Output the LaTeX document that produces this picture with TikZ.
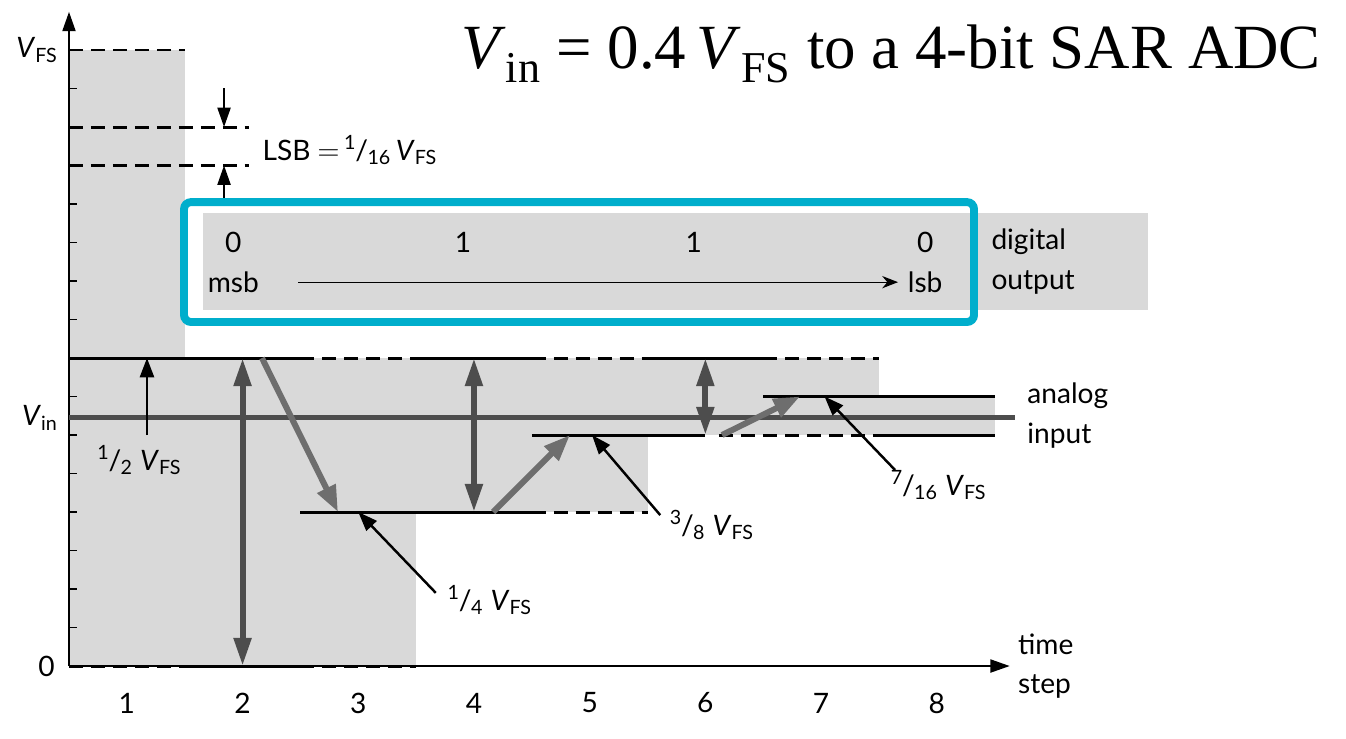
\documentclass[tikz,border=0pt]{standalone}
\usepackage{fontspec}
\setmainfont{Lato}
\newfontfamily\titlefont{Liberation Serif}
\usetikzlibrary{arrows.meta,positioning}

\definecolor{sarcyan}{HTML}{00AECC}
\definecolor{bandgray}{HTML}{D9D9D9}
\definecolor{testgray}{HTML}{4D4D4D}
\definecolor{movegray}{HTML}{6E6E6E}

\newcommand\vfs{\textit{V}\textsubscript{FS}}
\newcommand\frc[2]{\textsuperscript{#1}\kern-.04em/\kern-.02em\textsubscript{#2}}

\begin{document}
\begin{tikzpicture}
[
x = 2.314cm, y = 0.77cm,
>={Triangle[length=11pt,width=7.5pt]},
lbl/.style = {font=\fontsize{16}{22.5}\selectfont, inner sep=0pt},
level/.style = {line width=1.7pt},
dlevel/.style = {level, dash pattern=on 8pt off 4.5pt},
axis/.style = {line width=0.9pt},
test/.style = {line width=3.4pt, draw=testgray,
  {Triangle[length=16pt,width=9.5pt]}-{Triangle[length=16pt,width=9.5pt]}},
move/.style = {line width=3.4pt, draw=movegray, -{Triangle[length=15pt,width=11pt]}},
pointer/.style = {line width=1.4pt, -{Triangle[length=11pt,width=8pt]}},
]
\useasboundingbox (-0.5964,-1.870) rectangle (11.037,17.299);

% search intervals
\fill[bandgray] (0,0) rectangle (1,16);
\fill[bandgray] (1,0) rectangle (3,8);
\fill[bandgray] (3,4) rectangle (5,8);
\fill[bandgray] (5,6) rectangle (7,8);
\fill[bandgray] (7,6) rectangle (8,7);
\fill[bandgray] (1.158,9.247) rectangle (9.326,11.766);

% axes
\coordinate (O) at (0,0);
\coordinate (ytop) at (0,16.99);
\coordinate (xend) at (8.13,0);
\draw[axis,->] (O) -- (ytop);
\draw[axis,->] (O) -- (xend);
\foreach \k in {1,...,15}
  \draw[axis] (0,\k) -- (0.07,\k);

% DAC levels
\draw[dlevel] (0,16) -- (1,16);
\draw[dlevel] (0,14) -- (1.56,14);
\draw[dlevel] (0,13) -- (1.56,13);
\draw[level] (0,8) -- (2,8);
\draw[dlevel] (2,8) -- (3,8);
\draw[level] (3,8) -- (4,8);
\draw[dlevel] (4,8) -- (5,8);
\draw[level] (5,8) -- (6,8);
\draw[dlevel] (6,8) -- (7,8);
\draw[dlevel] (0,0) -- (1,0);
\draw[level] (1,0) -- (2,0);
\draw[dlevel] (2,0) -- (3,0);
\draw[level] (2,4) -- (4,4);
\draw[dlevel] (4,4) -- (5,4);
\draw[level] (4,6) -- (5.5,6);
\draw[dlevel] (5.62,6) -- (7,6);
\draw[level] (7,6) -- (8,6);
\draw[level] (6,7) -- (8,7);

% analog input
\coordinate (vinL) at (0,6.45);
\coordinate (vinR) at (8.18,6.45);
\draw[line width=2.8pt, testgray] (vinL) -- (vinR);

% comparisons
\coordinate (c2a) at (1.5,0);  \coordinate (c2b) at (1.5,8);
\coordinate (c4a) at (3.5,4);  \coordinate (c4b) at (3.5,8);
\coordinate (c6a) at (5.5,6);  \coordinate (c6b) at (5.5,8);
\draw[test] (c2a) -- (c2b);
\draw[test] (c4a) -- (c4b);
\draw[test] (c6a) -- (c6b);

% next trial levels
\coordinate (m1a) at (1.668,8);  \coordinate (m1b) at (2.325,4);
\coordinate (m2a) at (3.665,4);  \coordinate (m2b) at (4.33,6);
\coordinate (m3a) at (5.644,6);  \coordinate (m3b) at (6.318,7);
\draw[move] (m1a) -- (m1b);
\draw[move] (m2a) -- (m2b);
\draw[move] (m3a) -- (m3b);

% level labels
\node[lbl, anchor=west] (half) at (0.242,5.35) {\frc{1}{2} \vfs};
\node[lbl, anchor=west] (quarter) at (3.27,1.71) {\frc{1}{4} \vfs};
\node[lbl, anchor=west] (threeeighth) at (5.19,3.66) {\frc{3}{8} \vfs};
\node[lbl, anchor=west] (seven16) at (7.10,4.70) {\frc{7}{16} \vfs};
\coordinate (p1a) at (0.674,6.0);  \coordinate (p1b) at (0.674,8);
\coordinate (p2a) at (3.17,1.9);   \coordinate (p2b) at (2.5,4);
\coordinate (p3a) at (5.11,3.92);  \coordinate (p3b) at (4.52,6);
\coordinate (p4a) at (7.14,5.09);  \coordinate (p4b) at (6.53,7);
\draw[pointer] (p1a) -- (p1b);
\draw[pointer] (p2a) -- (p2b);
\draw[pointer] (p3a) -- (p3b);
\draw[pointer] (p4a) -- (p4b);

% LSB
\coordinate (lsbA) at (1.34,15.01); \coordinate (lsbB) at (1.34,14);
\coordinate (lsbC) at (1.34,12.1);  \coordinate (lsbD) at (1.34,13);
\draw[axis,->] (lsbA) -- (lsbB);
\draw[axis,->] (lsbC) -- (lsbD);
\node[lbl, anchor=west] (lsbtext) at (1.67,13.4) {LSB $=$\,\frc{1}{16}\,\vfs};

% axis labels
\node[lbl, anchor=east] (vfsY) at (-0.095,16) {\vfs};
\node[lbl, anchor=east] (vinY) at (-0.095,6.45) {\textit{V}\textsubscript{in}};
\node[lbl, anchor=east] (zeroY) at (-0.12,0) {0};
\foreach \k in {1,...,8}
  \node[lbl] (t\k) at (\k-0.5,-0.96) {\k};
\node[lbl, anchor=west, align=left] (tstep) at (8.2,0) {time\\step};
\node[lbl, anchor=west, align=left] (analog) at (8.28,6.5) {analog\\input};
\node[lbl, anchor=west, align=left] (digital) at (7.97,10.5) {digital\\output};

% digital output
\node[lbl] (b1) at (1.42,10.99) {0};
\node[lbl] (b2) at (3.405,10.99) {1};
\node[lbl] (b3) at (5.40,10.99) {1};
\node[lbl] (b4) at (7.40,10.99) {0};
\node[lbl] (msb) at (1.42,9.97) {msb};
\node[lbl] (lsb) at (7.40,9.97) {lsb};
\coordinate (ms) at (1.98,9.97);
\coordinate (ls) at (7.165,9.97);
\draw[line width=0.7pt,-{Stealth[length=9pt,width=7pt]}] (ms) -- (ls);
\draw[sarcyan, line width=4.5pt, rounded corners=4pt] (0.994,8.935) rectangle (7.822,12.05);

% title
\node[font=\titlefont\fontsize{35.8}{40}\selectfont, anchor=base] (title) at (7.105,15.53)
  {\textit{V}\textsubscript{in} = 0.4\,\textit{V}\textsubscript{FS} to a 4-bit SAR ADC};
\end{tikzpicture}
\end{document}
